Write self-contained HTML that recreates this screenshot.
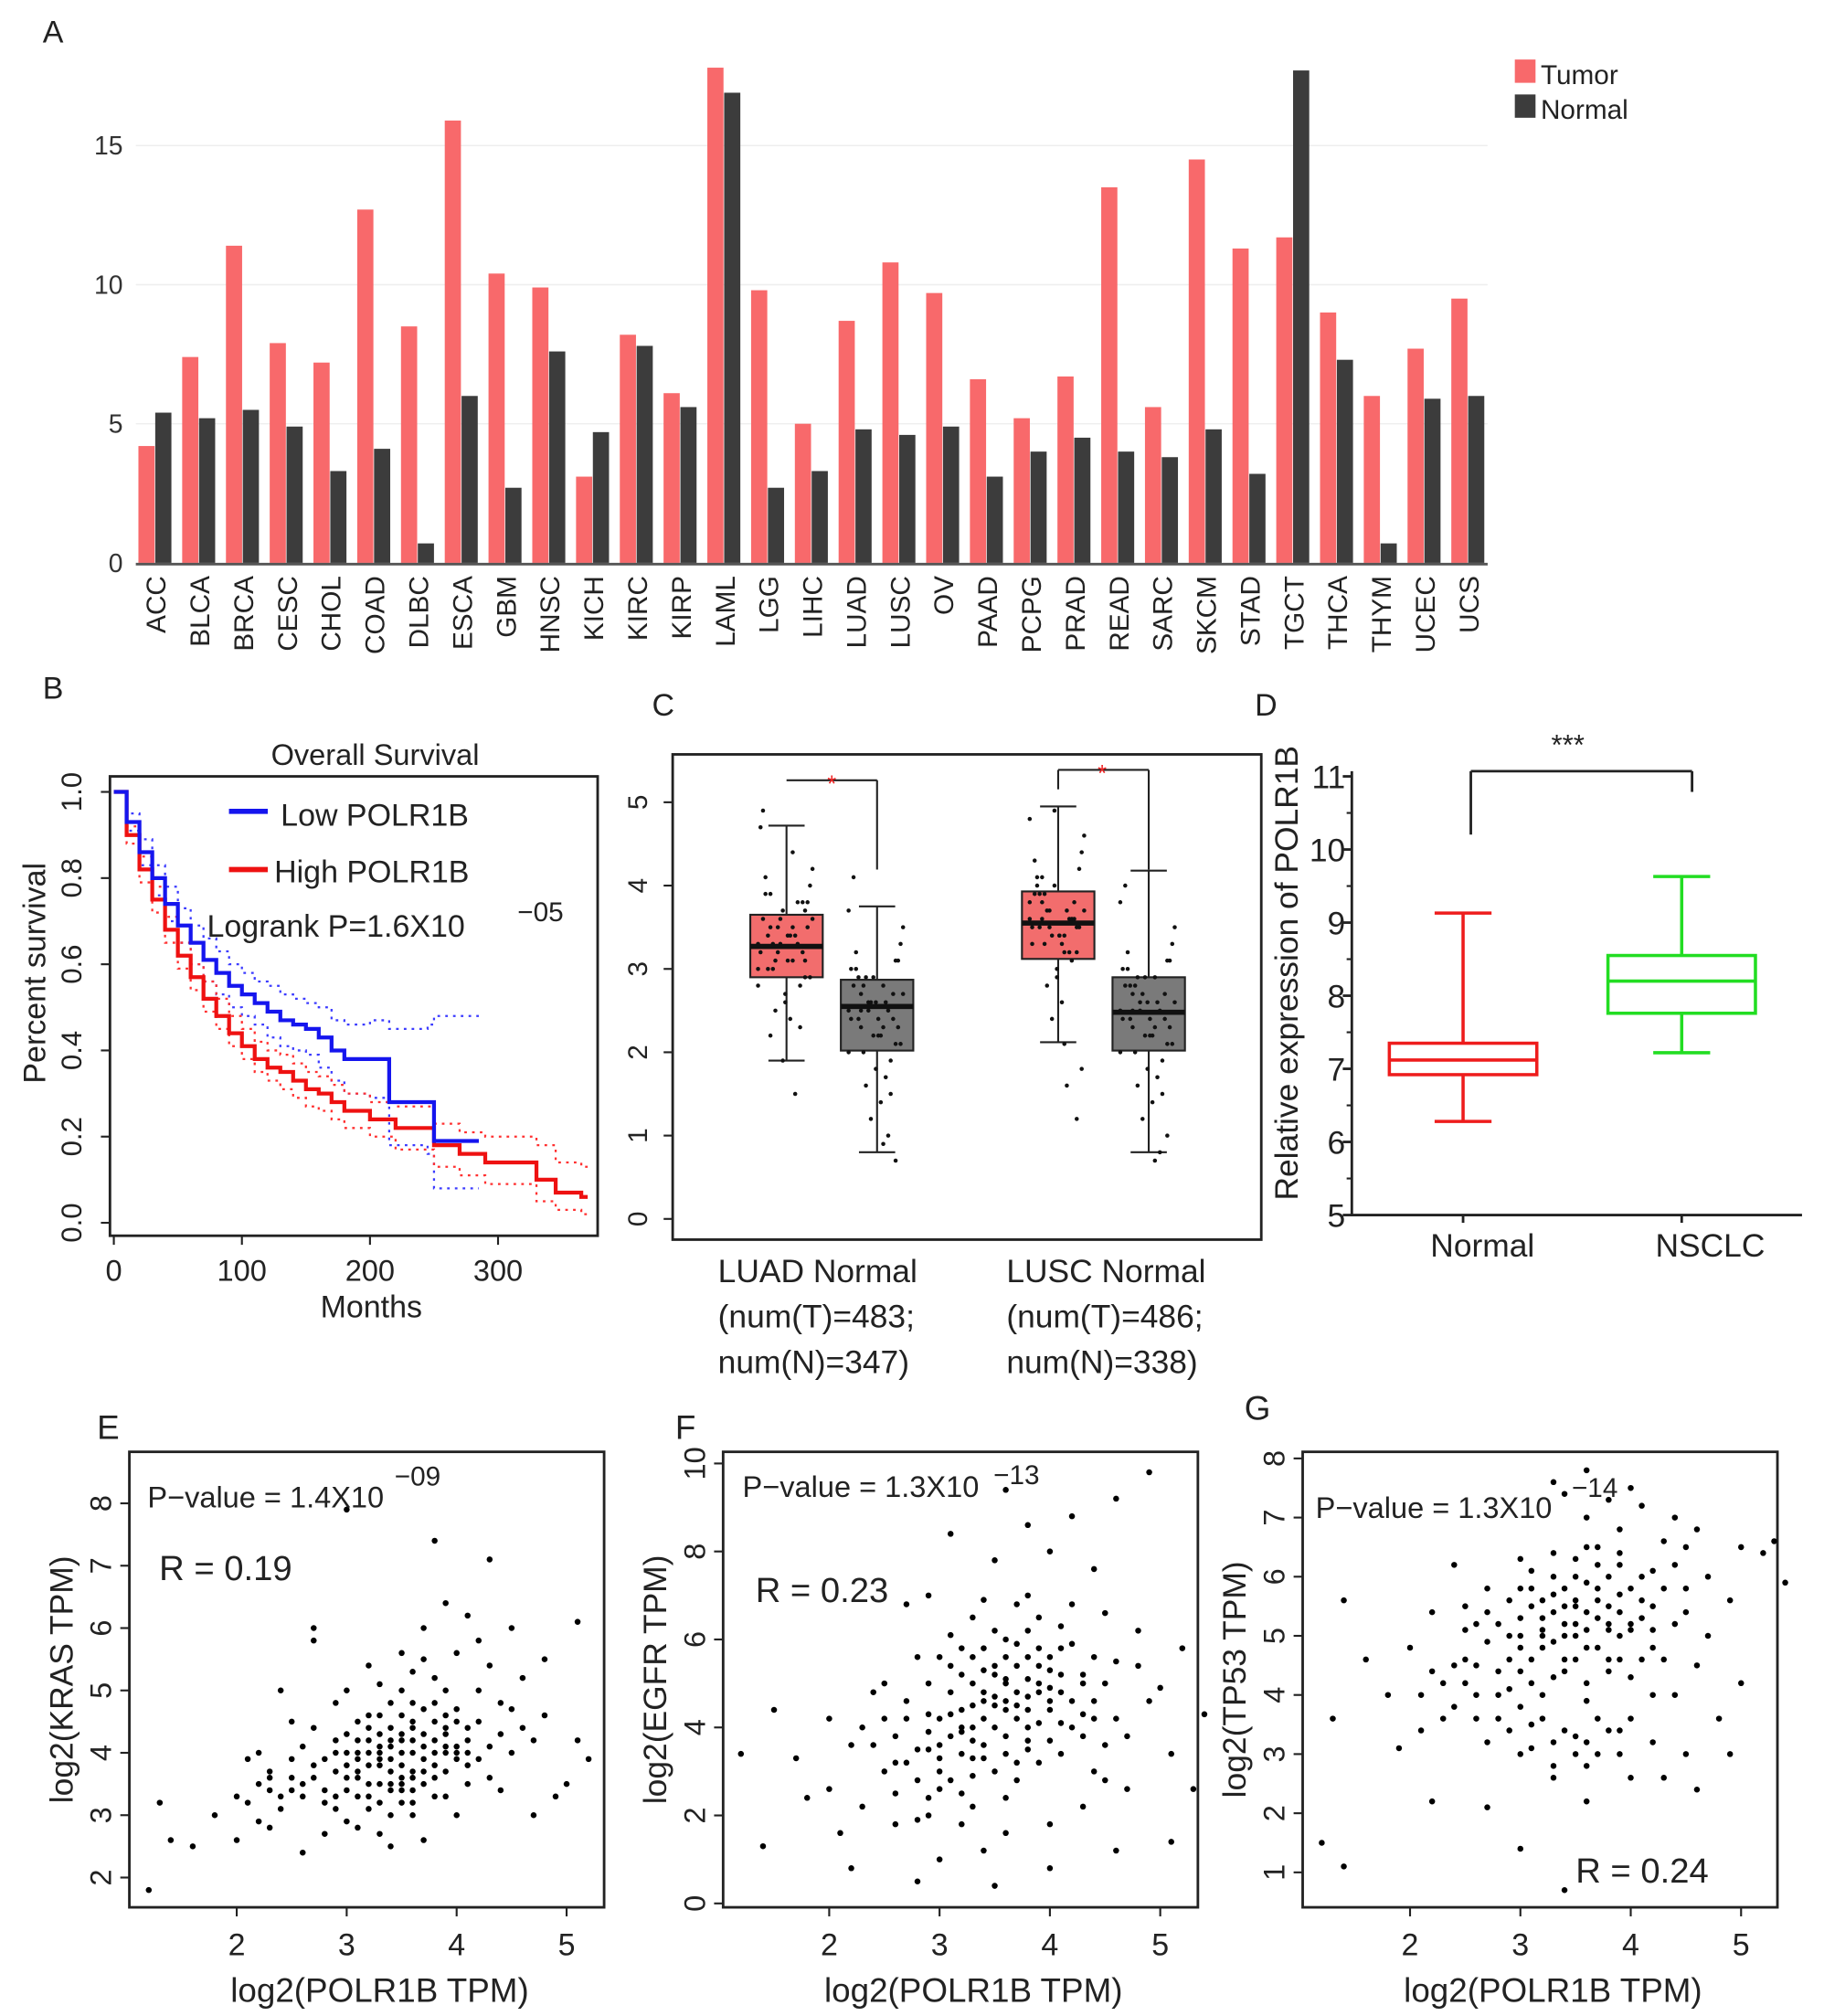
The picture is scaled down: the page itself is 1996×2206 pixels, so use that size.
<!DOCTYPE html>
<html><head><meta charset="utf-8">
<style>
html,body{margin:0;padding:0;background:#fff;}
svg{display:block;font-family:"Liberation Sans",Arial,sans-serif;}
</style></head>
<body>
<svg id="fig" width="1996" height="2206" viewBox="0 0 1410 1558" preserveAspectRatio="none" xmlns="http://www.w3.org/2000/svg"></svg>
<script>
// ---------- Panel A data ----------
const cancers=["ACC","BLCA","BRCA","CESC","CHOL","COAD","DLBC","ESCA","GBM","HNSC","KICH","KIRC","KIRP","LAML","LGG","LIHC","LUAD","LUSC","OV","PAAD","PCPG","PRAD","READ","SARC","SKCM","STAD","TGCT","THCA","THYM","UCEC","UCS"];
const tumorVals=[4.2,7.4,11.4,7.9,7.2,12.7,8.5,15.9,10.4,9.9,3.1,8.2,6.1,17.8,9.8,5.0,8.7,10.8,9.7,6.6,5.2,6.7,13.5,5.6,14.5,11.3,11.7,9.0,6.0,7.7,9.5];
const normalVals=[5.4,5.2,5.5,4.9,3.3,4.1,0.7,6.0,2.7,7.6,4.7,7.8,5.6,16.9,2.7,3.3,4.8,4.6,4.9,3.1,4.0,4.5,4.0,3.8,4.8,3.2,17.7,7.3,0.7,5.9,6.0];
const aTicks=[0,5,10,15];
// ---------- Panel B data ----------
const lowT=[0,10,20,30,40,50,60,70,80,90,100,110,120,130,140,150,160,170,180,200,212,215,245,250,285];
const lowS=[1,0.93,0.86,0.8,0.74,0.69,0.65,0.61,0.58,0.55,0.53,0.51,0.49,0.47,0.46,0.45,0.43,0.4,0.38,0.38,0.38,0.28,0.28,0.19,0.19];
const lowU=[1,0.95,0.89,0.83,0.78,0.73,0.69,0.66,0.63,0.6,0.58,0.56,0.55,0.53,0.52,0.51,0.5,0.47,0.46,0.47,0.47,0.45,0.46,0.48,0.48];
const lowL=[1,0.91,0.83,0.76,0.7,0.65,0.6,0.56,0.53,0.5,0.48,0.46,0.43,0.41,0.4,0.39,0.36,0.33,0.3,0.29,0.28,0.18,0.16,0.08,0.08];
const highT=[0,10,20,30,40,50,60,70,80,90,100,110,120,130,140,150,160,170,180,200,220,250,270,290,330,345,365,370];
const highS=[1,0.9,0.82,0.75,0.68,0.62,0.57,0.52,0.48,0.44,0.41,0.38,0.36,0.35,0.33,0.31,0.3,0.28,0.26,0.24,0.22,0.18,0.16,0.14,0.1,0.07,0.06,0.06];
const highU=[1,0.92,0.85,0.78,0.71,0.65,0.6,0.56,0.52,0.48,0.45,0.42,0.4,0.39,0.37,0.35,0.34,0.32,0.3,0.28,0.27,0.23,0.21,0.2,0.18,0.14,0.13,0.13];
const highL=[1,0.88,0.79,0.72,0.65,0.59,0.54,0.49,0.45,0.41,0.38,0.35,0.33,0.31,0.29,0.27,0.26,0.24,0.22,0.2,0.17,0.13,0.11,0.09,0.05,0.03,0.02,0.02];
const bYTicks=[0,0.2,0.4,0.6,0.8,1.0];
const bXTicks=[0,100,200,300];
// ---------- Panel C data ----------
const cGroups=["LUAD-T","LUAD-N","LUSC-T","LUSC-N"];
const cQ1=[2.9,2.02,3.12,2.02], cMed=[3.27,2.55,3.55,2.48], cQ3=[3.65,2.87,3.93,2.9];
const cLo=[1.9,0.8,2.12,0.8], cHi=[4.72,3.75,4.95,4.18];
const cPts=[
[3.3,3.1,3.5,2.9,3.7,3.2,3.4,3.0,3.8,2.7,3.6,3.3,2.5,4.0,3.1,3.9,2.8,3.5,4.2,2.4,3.4,3.2,3.6,3.0,4.4,2.2,3.7,1.9,4.7,1.5,3.3,3.5,2.6,4.9,3.8,3.1,2.9,3.4,4.1,2.3,3.2,3.6,3.4,3.0,3.8,3.3,2.8,3.5,3.9,3.1],
[2.5,2.3,2.7,2.1,2.9,2.4,2.6,2.0,3.1,1.8,2.8,2.5,1.6,3.3,2.2,3.0,1.9,2.6,3.5,1.4,2.4,2.7,1.2,3.7,0.9,2.5,0.7,2.2,3.0,1.7,2.8,2.3,2.6,4.1,1.0,2.9,2.1,2.4,3.2,1.5,2.5,2.7,2.2,2.9,2.4,2.6,2.0,2.8,2.3,3.1],
[3.6,3.4,3.8,3.2,4.0,3.5,3.7,3.3,4.2,3.0,3.9,3.6,2.8,4.4,3.4,4.1,3.1,3.7,4.6,2.6,3.5,3.8,2.4,4.8,2.1,3.6,1.2,4.9,3.3,1.6,3.9,3.5,2.9,4.3,3.2,3.7,1.8,3.4,4.0,3.6,3.5,3.7,3.3,3.9,3.6,3.4,3.8,3.2,4.1,3.5],
[2.5,2.3,2.7,2.1,2.9,2.4,2.6,2.0,3.1,1.8,2.8,2.5,1.6,3.3,2.2,3.0,1.9,2.6,3.5,1.4,2.4,2.7,1.2,3.8,0.7,2.5,1.0,2.2,3.0,1.7,2.8,2.3,2.6,4.0,0.8,2.9,2.1,2.4,3.2,1.5,2.5,2.6,2.2,2.8,2.4,2.7,2.0,2.9,2.3,3.1]];
const cTicks=[0,1,2,3,4,5];
// ---------- Panel D data ----------
const dCats=["Normal","NSCLC"];
const dQ1=[6.92,7.76], dMed=[7.12,8.2], dQ3=[7.35,8.55], dLo=[6.28,7.22], dHi=[9.13,9.63];
const dTicks=[5,6,7,8,9,10,11];
// ---------- Panels E/F/G data ----------
const ePts="3.1,3.9 3.3,4.1 3.5,3.8 3.6,4.2 3.2,3.5 3.4,4.4 3.7,3.9 3.8,4.5 3.0,3.6 2.9,4.0 3.5,3.4 3.9,4.0 4.0,4.7 3.3,3.2 3.6,4.8 2.8,3.4 3.2,4.6 3.4,3.7 3.7,3.5 4.1,4.2 4.2,5.0 3.8,5.2 3.5,5.0 3.0,4.3 2.7,3.8 2.6,3.3 2.5,3.6 2.4,3.1 2.3,3.4 2.2,2.9 2.1,3.2 2.0,2.6 1.8,3.0 1.6,2.5 1.4,2.6 1.2,1.8 1.3,3.2 2.9,3.1 3.1,2.8 3.3,2.7 3.6,3.0 3.9,3.3 4.3,3.6 4.5,4.0 4.6,4.4 4.4,4.8 4.3,5.4 4.0,5.6 3.7,6.0 3.5,5.6 3.9,6.4 4.1,6.2 4.3,7.1 4.6,5.2 4.8,4.6 5.0,3.5 5.1,4.2 5.2,3.9 4.9,3.3 4.7,3.0 3.4,2.5 3.0,2.9 2.8,2.7 2.6,2.4 2.5,4.5 2.2,4.0 2.4,5.0 2.7,5.8 2.7,6.0 3.2,5.4 3.0,7.9 3.8,7.4 4.5,6.0 4.2,5.8 3.6,4.5 3.4,3.0 3.8,3.6 3.2,4.0 3.3,3.5 3.6,3.7 3.9,4.3 4.1,3.8 3.5,4.0 3.1,4.5 2.9,4.8 2.6,4.1 2.3,3.7 4.4,3.4 4.8,5.5 5.1,6.1 3.7,2.6 3.1,3.3 3.4,4.8 4.0,3.0 2.9,3.7 3.0,4.0 3.1,3.6 3.2,4.2 3.3,3.9 3.4,4.1 3.5,3.6 3.6,4.0 3.7,4.3 3.8,3.8 3.9,4.1 4.0,3.9 3.3,4.3 3.5,4.3 3.7,4.1 3.4,3.5 3.6,3.4 3.8,4.0 4.0,4.1 4.1,4.4 3.2,3.8 3.0,3.8 2.8,3.9 2.7,3.6 2.6,3.5 2.5,3.4 2.4,3.3 2.3,3.6 2.9,4.2 3.1,4.2 3.3,4.6 3.5,4.6 3.7,4.7 3.9,4.6 4.2,4.5 4.3,4.1 4.4,4.3 3.6,3.2 3.4,3.4 3.2,3.1 3.0,3.4 2.8,3.2 3.9,3.7 4.1,3.5 3.8,4.8 3.5,4.2 3.3,3.8 3.1,4.0 3.6,4.4 3.8,4.2 4.0,4.5 3.4,3.9 3.7,3.7 2.9,3.3 3.2,3.3 3.5,3.2 4.2,3.9 3.9,5.0 3.6,5.3 3.3,5.1 4.5,4.7 4.7,4.2 2.7,4.4 2.5,3.9 2.2,3.5 2.1,3.9 2.0,3.3 2.3,2.8 3.0,5.0 3.7,5.5 4.0,4.0 3.8,3.3 3.5,3.5 3.1,3.7 3.3,4.0 3.6,3.6 4.1,4.0 3.9,4.4 3.4,4.2 3.2,4.4";
const fPts="3.5,4.5 3.7,4.8 3.3,4.0 3.9,5.0 3.6,3.8 4.0,4.4 3.2,5.2 3.8,5.6 3.4,3.3 4.1,5.8 4.2,4.0 3.0,4.2 2.9,3.5 3.1,2.8 3.6,6.0 3.9,6.5 4.3,5.2 4.4,4.6 4.5,3.6 4.6,5.5 4.2,6.8 3.8,7.0 4.0,8.0 4.4,7.6 4.8,6.2 4.9,4.6 5.0,4.9 5.1,3.4 4.7,2.6 4.3,2.2 4.0,1.8 3.6,1.6 3.4,1.2 3.2,1.8 3.0,1.0 2.8,1.9 2.6,2.5 2.5,3.0 2.4,3.6 2.3,2.2 2.1,1.6 2.0,2.6 1.8,2.4 1.7,3.3 1.5,4.4 1.4,1.3 1.2,3.4 2.2,0.8 2.8,0.5 3.5,0.4 4.0,0.8 3.0,3.3 2.7,4.2 2.5,5.0 2.8,5.6 3.1,6.1 3.3,6.5 2.9,7.0 3.5,7.8 3.6,9.4 4.6,9.2 4.9,9.8 4.4,3.0 3.7,2.8 3.3,3.7 3.5,5.4 3.9,4.1 4.1,4.8 3.8,3.5 3.4,4.6 3.6,5.0 3.2,3.9 3.7,4.2 4.0,5.3 4.3,4.3 2.6,3.8 2.4,4.8 2.9,2.4 3.2,2.5 4.5,6.6 4.8,5.4 5.2,5.8 5.4,4.3 5.3,2.6 5.1,1.4 4.6,1.2 2.2,3.6 2.0,4.2 3.8,8.6 3.1,8.4 2.7,6.8 4.2,8.8 3.4,5.8 3.8,6.2 3.0,3.6 3.2,4.4 3.4,4.8 3.6,4.4 3.8,4.7 4.0,4.6 3.5,5.2 3.7,5.4 3.9,5.4 3.3,5.0 3.1,4.8 2.9,4.3 2.8,3.5 2.7,3.2 3.0,3.0 3.2,3.4 3.4,3.6 3.6,3.4 3.8,4.0 4.0,3.7 4.2,4.6 4.3,5.0 4.1,5.2 3.9,5.8 3.7,5.9 3.5,6.2 3.3,5.6 3.1,5.4 2.9,5.0 2.7,4.6 2.6,3.2 2.8,2.8 3.0,2.6 3.3,2.9 3.5,3.0 3.7,3.2 3.9,3.2 4.1,3.4 4.3,3.8 4.4,4.2 4.5,5.0 4.4,5.6 4.2,5.9 3.6,4.6 3.4,4.2 3.2,4.0 3.5,4.0 3.7,4.5 3.9,4.8 4.1,4.1 3.3,4.5 3.1,3.8 2.9,3.9 3.6,5.6 3.8,5.1 4.0,5.6 3.4,5.3 3.2,5.8 3.0,5.6 3.6,2.4 3.3,2.2 2.9,2.0 2.6,1.8 2.5,4.2 2.3,4.0 4.6,4.2 4.7,3.8 4.5,2.8 3.7,6.8 3.4,6.9 4.1,6.3 3.8,4.4 3.5,4.7 3.1,4.3 3.3,3.3 4.0,4.9 3.6,5.1 3.8,3.7";
const gPts="3.5,5.2 3.3,5.4 3.7,5.6 3.2,5.0 3.8,5.1 3.4,5.8 3.6,4.8 3.0,5.3 3.9,5.7 4.0,5.2 3.1,4.6 2.9,5.0 2.8,4.4 3.5,6.0 3.7,6.2 3.3,6.4 4.1,6.0 4.2,5.5 4.3,6.6 3.9,6.8 3.6,7.0 3.4,7.4 3.8,7.3 4.1,7.2 4.4,6.2 4.5,5.4 4.6,6.8 4.7,5.0 5.0,6.5 5.2,6.4 5.0,4.2 4.8,3.6 4.5,3.0 4.3,2.6 4.2,3.2 3.9,3.4 3.7,3.0 3.5,3.3 3.3,2.8 3.1,3.5 3.0,3.0 2.8,3.6 2.7,3.2 2.6,4.0 2.5,4.6 2.4,3.8 2.3,4.2 2.2,5.4 2.1,3.4 2.0,4.8 1.9,3.1 1.8,4.0 1.6,4.6 1.4,5.6 1.3,3.6 1.2,1.5 1.4,1.1 2.2,2.2 2.7,2.1 3.0,1.4 3.4,0.7 3.6,2.2 4.0,2.6 4.6,2.4 4.9,3.0 4.4,4.0 4.0,4.3 3.6,3.9 3.2,4.0 2.9,4.1 3.1,6.1 2.7,5.8 2.5,5.5 2.4,6.2 3.6,7.8 3.3,7.6 4.0,7.5 4.4,7.0 4.9,5.6 5.4,5.9 5.3,6.6 3.8,4.6 3.4,4.4 3.0,5.8 2.6,5.2 4.2,4.8 4.5,5.8 3.9,6.2 3.5,5.6 3.2,5.6 3.7,5.3 3.3,4.9 3.6,6.5 3.2,5.3 3.4,5.2 3.6,5.4 3.8,5.5 3.0,5.0 3.1,5.5 3.3,5.7 3.5,5.5 3.7,5.8 3.9,5.4 4.1,5.3 4.0,5.8 3.8,6.0 3.6,5.9 3.4,5.0 3.2,4.8 3.0,4.8 2.9,4.6 2.7,4.9 2.6,4.5 2.5,4.2 2.8,5.2 2.9,5.6 3.1,5.8 3.3,6.0 3.5,6.3 3.7,6.5 3.9,6.4 4.2,6.1 4.3,5.8 4.1,5.6 3.9,5.0 3.7,4.8 3.5,4.6 3.3,4.3 3.1,4.2 3.0,3.8 3.2,3.6 3.4,3.4 3.6,3.2 3.8,3.4 3.7,3.6 3.5,3.0 3.3,3.2 3.1,3.1 2.9,3.4 3.9,3.0 4.0,3.6 4.2,4.0 4.3,4.6 4.4,5.2 4.2,5.1 3.6,4.2 3.4,4.6 3.8,4.4 3.0,4.4 2.8,4.0 2.6,3.6 2.4,4.5 2.3,3.6 2.2,4.4 2.1,4.0 4.6,4.5 4.7,6.0 4.5,6.5 3.5,5.0 3.6,5.1 3.4,5.5 3.2,5.1 3.8,5.2 4.0,5.1 2.7,5.4 2.5,5.1 3.0,6.3 3.9,4.6 4.1,4.6 3.6,2.8 3.3,2.6";
const scatterXTicks=[2,3,4,5];
const eYTicks=[2,3,4,5,6,7,8], fYTicks=[0,2,4,6,8,10], gYTicks=[1,2,3,4,5,6,7,8];

const NS="http://www.w3.org/2000/svg";
const svg=document.getElementById('fig');
function mk(tag,attrs,name,parent){
  const e=document.createElementNS(NS,tag);
  for(const k in attrs)e.setAttribute(k,attrs[k]);
  
  
  (parent||svg).appendChild(e);return e;
}
function txt(x,y,s,size,name,opts){
  opts=opts||{};
  const a={x:x,y:y,'font-size':size,fill:opts.fill||'#222'};
  if(opts.anchor)a['text-anchor']=opts.anchor;
  if(opts.rot!==undefined)a.transform='rotate('+opts.rot+' '+x+' '+y+')';
  const t=mk('text',a,name,opts.parent);t.textContent=s;return t;
}
function line(x1,y1,x2,y2,stroke,w,name,extra){
  const a={x1:x1,y1:y1,x2:x2,y2:y2,stroke:stroke,'stroke-width':w};
  if(extra)for(const k in extra)a[k]=extra[k];
  return mk('line',a,name);
}

// ================= Panel A =================
txt(33,33,"A",24,"panel-label-a");
const aY=v=>435-v*21.5;
const aX=i=>120+i*33.83;
aTicks.forEach(t=>{
  if(t>0)line(105,aY(t),1150,aY(t),'#eeeeee',1,'gridline-a');
  txt(95,aY(t)+7,String(t),20,'y-tick-label-a',{anchor:'end',fill:'#333'});
});
cancers.forEach((c,i)=>{
  mk('rect',{x:aX(i)-13,y:aY(tumorVals[i]),width:12.5,height:tumorVals[i]*21.5,fill:'#f8696b'},'bar-tumor-'+c.toLowerCase());
  mk('rect',{x:aX(i),y:aY(normalVals[i]),width:12.5,height:normalVals[i]*21.5,fill:'#3c3c3c'},'bar-normal-'+c.toLowerCase());
  txt(aX(i)+8,445,c,21,'x-tick-label-a',{anchor:'end',rot:-90,fill:'#222'});
});
line(105,436,1150,436,'#555',2,'x-axis-a');
mk('rect',{x:1171,y:46,width:16,height:18,fill:'#f8696b'},'legend-swatch-tumor');
txt(1191,65,"Tumor",21,'legend-label-tumor');
mk('rect',{x:1171,y:73,width:16,height:18,fill:'#3c3c3c'},'legend-swatch-normal');
txt(1191,92,"Normal",21,'legend-label-normal');

// ================= Panel B =================
txt(33,540,"B",24,"panel-label-b");
mk('rect',{x:85,y:600,width:377,height:355,fill:'none',stroke:'#222','stroke-width':2},'plot-frame-b');
const bX=m=>88+m*0.99;
const bY=v=>945-v*333;
bYTicks.forEach(t=>{
  line(78,bY(t),85,bY(t),'#222',1.5,'y-tick-b');
  txt(63,bY(t),t.toFixed(1),22,'y-tick-label-b',{anchor:'middle',rot:-90});
});
bXTicks.forEach(t=>{
  line(bX(t),955,bX(t),962,'#222',1.5,'x-tick-b');
  txt(bX(t),990,String(t),23,'x-tick-label-b',{anchor:'middle'});
});
txt(287,1018,"Months",24,'x-axis-title-b',{anchor:'middle'});
txt(35,752,"Percent survival",24,'y-axis-title-b',{anchor:'middle',rot:-90});
txt(290,591,"Overall Survival",23,'chart-title-b',{anchor:'middle'});
function stepPath(T,S){
  let d='M'+bX(T[0])+','+bY(S[0]);
  for(let i=1;i<T.length;i++){d+=' H'+bX(T[i])+' V'+bY(S[i]);}
  return d;
}
mk('path',{d:stepPath(lowT,lowU),fill:'none',stroke:'#3b3bff','stroke-width':1.6,'stroke-dasharray':'2,4'},'ci-upper-low');
mk('path',{d:stepPath(lowT,lowL),fill:'none',stroke:'#3b3bff','stroke-width':1.6,'stroke-dasharray':'2,4'},'ci-lower-low');
mk('path',{d:stepPath(highT,highU),fill:'none',stroke:'#ff3030','stroke-width':1.6,'stroke-dasharray':'2,4'},'ci-upper-high');
mk('path',{d:stepPath(highT,highL),fill:'none',stroke:'#ff3030','stroke-width':1.6,'stroke-dasharray':'2,4'},'ci-lower-high');
mk('path',{d:stepPath(highT,highS),fill:'none',stroke:'#ee1111','stroke-width':3},'survival-curve-high');
mk('path',{d:stepPath(lowT,lowS),fill:'none',stroke:'#1515ee','stroke-width':3},'survival-curve-low');
line(177,627,207,627,'#1515ee',4,'legend-line-low');
txt(217,638,"Low POLR1B",24,'legend-label-low');
line(177,672,207,672,'#ee1111',4,'legend-line-high');
txt(212,682,"High POLR1B",24,'legend-label-high');
txt(160,724,"Logrank P=1.6X10",24,'logrank-p-value');
txt(400,712,"\u221205",21,'logrank-exponent');

// ================= Panel C =================
txt(504,553,"C",24,"panel-label-c");
mk('rect',{x:520,y:583,width:455,height:375,fill:'none',stroke:'#222','stroke-width':2},'plot-frame-c');
const cY=v=>942-v*64.4;
cTicks.forEach(t=>{
  line(513,cY(t),520,cY(t),'#222',1.5,'y-tick-c');
  txt(500,cY(t),String(t),21,'y-tick-label-c',{anchor:'middle',rot:-90});
});
const cXc=[608,678,818,888];
cGroups.forEach((g,i)=>{
  const cx=cXc[i];
  const fill=(i%2===0)?'#f26d6d':'#7a7a7a';
  line(cx,cY(cLo[i]),cx,cY(cHi[i]),'#222',1.5,'whisker-'+g.toLowerCase());
  line(cx-14,cY(cHi[i]),cx+14,cY(cHi[i]),'#222',1.5,'whisker-cap-'+g.toLowerCase());
  line(cx-14,cY(cLo[i]),cx+14,cY(cLo[i]),'#222',1.5,'whisker-cap-'+g.toLowerCase());
  mk('rect',{x:cx-28,y:cY(cQ3[i]),width:56,height:(cQ3[i]-cQ1[i])*64.4,fill:fill,stroke:'#222','stroke-width':1.5},'box-'+g.toLowerCase());
  cPts[i].forEach((v,j)=>{
    const jx=cx+(((j*37)%23)/23-0.5)*44;
    mk('circle',{cx:jx,cy:cY(v),r:1.6,fill:'#111'},'jitter-point-'+g.toLowerCase());
  });
  line(cx-28,cY(cMed[i]),cx+28,cY(cMed[i]),'#111',4,'median-'+g.toLowerCase());
});
line(608,603,678,603,'#222',1.5,'sig-bracket-luad');
line(678,603,678,672,'#222',1.5,'sig-bracket-luad');
txt(643,612,"*",18,'sig-star-luad',{anchor:'middle',fill:'#ee2222'});
line(818,595,888,595,'#222',1.5,'sig-bracket-lusc');
line(818,595,818,610,'#222',1.5,'sig-bracket-lusc');
line(888,595,888,672,'#222',1.5,'sig-bracket-lusc');
txt(852,604,"*",18,'sig-star-lusc',{anchor:'middle',fill:'#ee2222'});
txt(555,991,"LUAD  Normal",25,'x-label-luad');
txt(555,1026,"(num(T)=483;",25,'x-label-luad-count-t');
txt(555,1061,"num(N)=347)",25,'x-label-luad-count-n');
txt(778,991,"LUSC  Normal",25,'x-label-lusc');
txt(778,1026,"(num(T)=486;",25,'x-label-lusc-count-t');
txt(778,1061,"num(N)=338)",25,'x-label-lusc-count-n');

// ================= Panel D =================
txt(970,553,"D",24,"panel-label-d");
const dY=v=>939-(v-5)*56.5;
line(1045,596,1045,940,'#222',2,'y-axis-d');
line(1044,939,1393,939,'#222',2,'x-axis-d');
dTicks.forEach(t=>{
  line(1038,dY(t),1045,dY(t),'#222',2,'y-tick-d');
  if(t<11)line(1041,dY(t+0.5),1045,dY(t+0.5),'#222',1.5,'y-minor-tick-d');
  txt(1040,dY(t)+9,String(t),25,'y-tick-label-d',{anchor:'end'});
});
txt(1003,752,"Relative expression of POLR1B",25,'y-axis-title-d',{anchor:'middle',rot:-90});
const dXc=[1131,1300], dCol=['#ee1c1c','#22dd22'];
dCats.forEach((c,i)=>{
  const cx=dXc[i],col=dCol[i];
  line(cx,939,cx,945,'#222',2,'x-tick-d');
  line(cx,dY(dLo[i]),cx,dY(dQ1[i]),col,2.5,'whisker-'+c.toLowerCase());
  line(cx,dY(dQ3[i]),cx,dY(dHi[i]),col,2.5,'whisker-'+c.toLowerCase());
  line(cx-22,dY(dLo[i]),cx+22,dY(dLo[i]),col,2.5,'whisker-cap-'+c.toLowerCase());
  line(cx-22,dY(dHi[i]),cx+22,dY(dHi[i]),col,2.5,'whisker-cap-'+c.toLowerCase());
  mk('rect',{x:cx-57,y:dY(dQ3[i]),width:114,height:(dQ3[i]-dQ1[i])*56.5,fill:'none',stroke:col,'stroke-width':2.5},'box-'+c.toLowerCase());
  line(cx-57,dY(dMed[i]),cx+57,dY(dMed[i]),col,2.5,'median-'+c.toLowerCase());
  txt(cx+(i?22:15),971,c,25,'x-tick-label-d',{anchor:'middle'});
});
line(1137,596,1308,596,'#222',2,'sig-bracket-d');
line(1137,596,1137,645,'#222',2,'sig-bracket-d');
line(1308,596,1308,612,'#222',2,'sig-bracket-d');
txt(1212,583,"***",22,'sig-stars-d',{anchor:'middle'});

// ================= Panels E/F/G =================
function scatter(id,letter,lx,ly,box,xmap,ymap,yTicks,pts,ylab,pval,pexp,rTxt,rPos){
  txt(lx,ly,letter,26,'panel-label-'+id);
  mk('rect',{x:box[0],y:box[1],width:box[2]-box[0],height:box[3]-box[1],fill:'none',stroke:'#222','stroke-width':2},'plot-frame-'+id);
  scatterXTicks.forEach(t=>{
    line(xmap(t),box[3],xmap(t),box[3]+7,'#222',1.5,'x-tick-'+id);
    txt(xmap(t),box[3]+37,String(t),24,'x-tick-label-'+id,{anchor:'middle'});
  });
  yTicks.forEach(t=>{
    line(box[0]-7,ymap(t),box[0],ymap(t),'#222',1.5,'y-tick-'+id);
    txt(box[0]-14,ymap(t),String(t),23,'y-tick-label-'+id,{anchor:'middle',rot:-90});
  });
  pts.split(' ').forEach(p=>{
    const [a,b]=p.split(',').map(Number);
    mk('circle',{cx:xmap(a),cy:ymap(b),r:2.3,fill:'#000'},'scatter-point-'+id);
  });
  txt((box[0]+box[2])/2+10,box[3]+73,"log2(POLR1B TPM)",26,'x-axis-title-'+id,{anchor:'middle'});
  txt(box[0]-44,(box[1]+box[3])/2,ylab,25,'y-axis-title-'+id,{anchor:'middle',rot:-90});
  txt(pval[0],pval[1],"P\u2212value = "+pval[2],23,'p-value-'+id);
  txt(pexp[0],pexp[1],pexp[2],21,'p-value-exponent-'+id);
  txt(rPos[0],rPos[1],rTxt,27,'r-value-'+id);
}
scatter('e','E',75,1112,[100,1122,467,1474],v=>183+(v-2)*85,v=>1451-(v-2)*48.2,eYTicks,ePts,"log2(KRAS TPM)",[114,1165,"1.4X10"],[305,1148,"\u221209"],"R = 0.19",[123,1221]);
scatter('f','F',522,1112,[559,1122,926,1474],v=>641+(v-2)*85.3,v=>1471-v*34,fYTicks,fPts,"log2(EGFR TPM)",[574,1157,"1.3X10"],[768,1147,"\u221213"],"R = 0.23",[584,1238]);
scatter('g','G',962,1097,[1007,1122,1374,1474],v=>1090+(v-2)*85.3,v=>1447-(v-1)*45.7,gYTicks,gPts,"log2(TP53 TPM)",[1017,1173,"1.3X10"],[1215,1157,"\u221214"],"R = 0.24",[1218,1455]);
</script>
</body></html>
